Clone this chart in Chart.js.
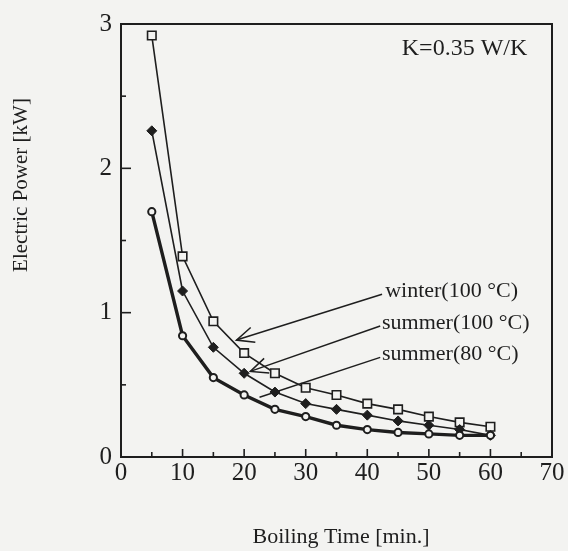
<!DOCTYPE html>
<html>
<head>
<meta charset="utf-8">
<script src="https://cdn.jsdelivr.net/npm/chart.js@4"></script>
<style>
  html, body { margin: 0; padding: 0; background: #f3f3f1; }
  #wrap { width: 568px; height: 551px; }
</style>
</head>
<body>
<div id="wrap"><canvas id="c" width="568" height="551"></canvas></div>
<script>
// ---- data ----
const boilingTime = [5, 10, 15, 20, 25, 30, 35, 40, 45, 50, 55, 60];
const winter100 = [2.92, 1.39, 0.94, 0.72, 0.58, 0.48, 0.43, 0.37, 0.33, 0.28, 0.24, 0.21];
const summer100 = [2.26, 1.15, 0.76, 0.58, 0.45, 0.37, 0.33, 0.29, 0.25, 0.22, 0.19, 0.15];
const summer80  = [1.70, 0.84, 0.55, 0.43, 0.33, 0.28, 0.22, 0.19, 0.17, 0.16, 0.15, 0.15];
const seriesNames = ['winter(100 °C)', 'summer(100 °C)', 'summer(80 °C)'];
const xTickValues = [0, 10, 20, 30, 40, 50, 60, 70];
const yTickValues = [0, 1, 2, 3];
const xTitle = 'Boiling Time [min.]';
const yTitle = 'Electric Power [kW]';
const noteText = 'K=0.35 W/K';
// annotation anchors in data units
const labelX = [42.9, 42.4, 42.4];
const labelY = [1.15, 0.93, 0.71];
const leaderFromX = [42.4, 42.1, 42.1];
const leaderFromY = [1.127, 0.908, 0.69];
const leaderToX = [18.75, 21.0, 22.5];
const leaderToY = [0.81, 0.593, 0.414];
const leaderArrow = [true, true, false];
const noteX = 45.6;
const noteY = 2.83;

const ink = '#1e1e1e';
const serif = "'Liberation Serif', 'DejaVu Serif', serif";

const pts = (ys) => boilingTime.map((x, i) => ({ x: x, y: ys[i] }));

const framePlugin = {
  id: 'frame',
  afterDraw(chart) {
    const ctx = chart.ctx;
    const a = chart.chartArea;
    const xs = chart.scales.x, ys = chart.scales.y;
    ctx.save();
    ctx.strokeStyle = ink;
    ctx.lineWidth = 2;
    ctx.strokeRect(a.left, a.top, a.right - a.left, a.bottom - a.top);
    // inward ticks
    ctx.lineWidth = 1.6;
    xs.ticks.forEach(t => {
      const px = xs.getPixelForValue(t.value);
      const major = xTickValues.includes(t.value);
      const len = major ? 8 : 5;
      ctx.beginPath(); ctx.moveTo(px, a.bottom); ctx.lineTo(px, a.bottom - len); ctx.stroke();
    });
    ys.ticks.forEach(t => {
      const py = ys.getPixelForValue(t.value);
      const major = yTickValues.includes(t.value);
      const len = major ? 10 : 5;
      ctx.beginPath(); ctx.moveTo(a.left, py); ctx.lineTo(a.left + len, py); ctx.stroke();
    });
    // leaders and labels
    ctx.lineWidth = 1.5;
    for (let i = 0; i < seriesNames.length; i++) {
      const x0 = xs.getPixelForValue(leaderFromX[i]), y0 = ys.getPixelForValue(leaderFromY[i]);
      const x1 = xs.getPixelForValue(leaderToX[i]), y1 = ys.getPixelForValue(leaderToY[i]);
      ctx.beginPath(); ctx.moveTo(x0, y0); ctx.lineTo(x1, y1); ctx.stroke();
      if (leaderArrow[i]) {
        const ang = Math.atan2(y0 - y1, x0 - x1);
        const L = 19, h = 0.42;
        ctx.beginPath();
        ctx.moveTo(x1 + L * Math.cos(ang - h), y1 + L * Math.sin(ang - h));
        ctx.lineTo(x1, y1);
        ctx.lineTo(x1 + L * Math.cos(ang + h), y1 + L * Math.sin(ang + h));
        ctx.stroke();
      }
      ctx.fillStyle = ink;
      ctx.font = "22px " + serif;
      ctx.textAlign = 'left';
      ctx.textBaseline = 'middle';
      ctx.fillText(seriesNames[i], xs.getPixelForValue(labelX[i]), ys.getPixelForValue(labelY[i]));
    }
    ctx.font = "24px " + serif;
    ctx.fillText(noteText, xs.getPixelForValue(noteX), ys.getPixelForValue(noteY));
    // axis titles
    ctx.font = "22px " + serif;
    ctx.textAlign = 'center';
    ctx.textBaseline = 'middle';
    ctx.fillText(xTitle, a.left + 220, a.bottom + 80);
    ctx.save();
    ctx.translate(a.left - 100, a.top + 161);
    ctx.rotate(-Math.PI / 2);
    ctx.font = "21px " + serif;
    ctx.fillText(yTitle, 0, 0);
    ctx.restore();
    ctx.restore();
  }
};

new Chart(document.getElementById('c'), {
  type: 'line',
  data: {
    datasets: [
      {
        label: seriesNames[2], data: pts(summer80),
        borderColor: ink, borderWidth: 3.4, pointStyle: 'circle', pointRadius: 3.6,
        pointBackgroundColor: '#f3f3f1', pointBorderColor: ink, pointBorderWidth: 2, tension: 0
      },
      {
        label: seriesNames[1], data: pts(summer100),
        borderColor: ink, borderWidth: 1.6, pointStyle: 'rectRot', pointRadius: 5,
        pointBackgroundColor: ink, pointBorderColor: ink, pointBorderWidth: 1, tension: 0
      },
      {
        label: seriesNames[0], data: pts(winter100),
        borderColor: ink, borderWidth: 1.6, pointStyle: 'rect', pointRadius: 6,
        pointBackgroundColor: '#f3f3f1', pointBorderColor: ink, pointBorderWidth: 1.6, tension: 0
      }
    ]
  },
  options: {
    responsive: false,
    animation: false,
    layout: { padding: { top: 21, right: 16, left: 0, bottom: 0 } },
    plugins: { legend: { display: false }, tooltip: { enabled: false } },
    scales: {
      x: {
        type: 'linear', min: 0, max: 70,
        afterFit: (s) => { s.height = 94; },
        ticks: {
          stepSize: 5, autoSkip: false, maxRotation: 0, padding: 1, color: ink,
          font: { family: serif, size: 25 },
          callback: (v) => xTickValues.includes(v) ? String(v) : ''
        },
        grid: { display: false, drawTicks: false },
        border: { display: false },
        title: { display: false }
      },
      y: {
        type: 'linear', min: 0, max: 3,
        afterFit: (s) => { s.width = 121; },
        ticks: {
          stepSize: 0.5, autoSkip: false, padding: 9, color: ink,
          font: { family: serif, size: 25 },
          callback: (v) => yTickValues.includes(v) ? String(v) : ''
        },
        grid: { display: false, drawTicks: false },
        border: { display: false },
        title: { display: false }
      }
    }
  },
  plugins: [framePlugin]
});
</script>
</body>
</html>
